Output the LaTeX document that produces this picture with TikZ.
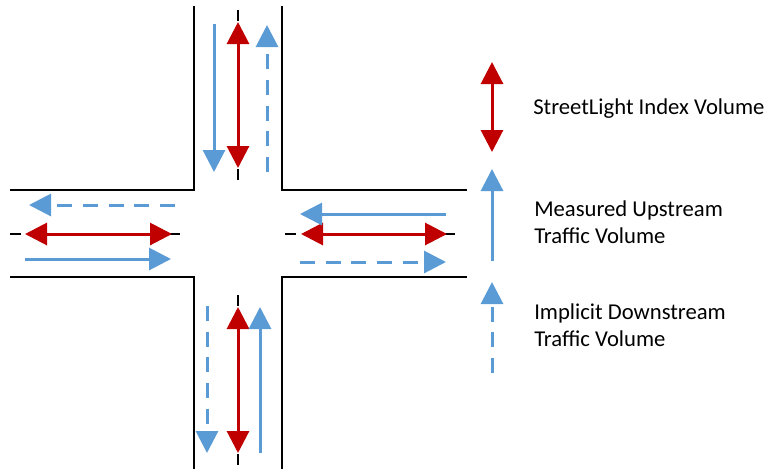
\documentclass[tikz,border=0pt]{standalone}
\usepackage{fontspec}
\setmainfont{Carlito}
\usetikzlibrary{arrows.meta}
\definecolor{sred}{HTML}{C00000}
\definecolor{sblue}{HTML}{5B9BD5}
\begin{document}
\begin{tikzpicture}[x=0.75pt,y=-0.75pt,
  road/.style={line width=1.8pt,black,line join=miter},
  center/.style={line width=1.8pt,black,dash pattern=on 8pt off 5.25pt},
  idx/.style={line width=2.25pt,sred,{Triangle[width=16.5pt,length=16.5pt]}-{Triangle[width=16.5pt,length=16.5pt]}},
  meas/.style={line width=2.25pt,sblue,-{Triangle[width=16.5pt,length=16.5pt]}},
  impl/.style={line width=2.25pt,sblue,dash pattern=on 11.25pt off 8pt,-{Triangle[width=16.5pt,length=16.5pt]}},
  lbl/.style={anchor=base west,inner sep=0pt,font=\fontsize{17}{20.8}\selectfont}]
\useasboundingbox (0,0) rectangle (770,469);
% road edges
\coordinate (tlA) at (10,190); \coordinate (tlC) at (194,190); \coordinate (tlT) at (194,6);
\coordinate (trT) at (282,6); \coordinate (trC) at (282,190); \coordinate (trA) at (467,190);
\coordinate (blA) at (10,277); \coordinate (blC) at (194,277); \coordinate (blB) at (194,469);
\coordinate (brA) at (467,277); \coordinate (brC) at (282,277); \coordinate (brB) at (282,469);
\draw[road] (tlA) -- (tlC) -- (tlT);
\draw[road] (trT) -- (trC) -- (trA);
\draw[road] (blA) -- (blC) -- (blB);
\draw[road] (brA) -- (brC) -- (brB);
% centre lines
\coordinate (cn1) at (238,10); \coordinate (cn2) at (238,183);
\coordinate (cw1) at (10,234); \coordinate (cw2) at (183,234);
\coordinate (ce1) at (285,234); \coordinate (ce2) at (458,234);
\coordinate (cs1) at (238,295); \coordinate (cs2) at (238,469);
\draw[center] (cn1) -- (cn2);
\draw[center] (cw1) -- (cw2);
\draw[center] (ce1) -- (ce2);
\draw[center] (cs1) -- (cs2);
% StreetLight index arrows
\coordinate (rn1) at (238,22); \coordinate (rn2) at (238,168);
\coordinate (rw1) at (25,234); \coordinate (rw2) at (172,234);
\coordinate (re1) at (301,234); \coordinate (re2) at (447,234);
\coordinate (rs1) at (238,307); \coordinate (rs2) at (238,453);
\draw[idx] (rn1) -- (rn2);
\draw[idx] (rw1) -- (rw2);
\draw[idx] (re1) -- (re2);
\draw[idx] (rs1) -- (rs2);
% measured upstream arrows
\coordinate (mn1) at (214,24); \coordinate (mn2) at (214,172);
\coordinate (mw1) at (25,259); \coordinate (mw2) at (171,259);
\coordinate (me1) at (446,214); \coordinate (me2) at (300,214);
\coordinate (ms1) at (260,453); \coordinate (ms2) at (260,307);
\draw[meas] (mn1) -- (mn2);
\draw[meas] (mw1) -- (mw2);
\draw[meas] (me1) -- (me2);
\draw[meas] (ms1) -- (ms2);
% implicit downstream arrows
\coordinate (dn1) at (267,172); \coordinate (dn2) at (267,25);
\coordinate (dw1) at (175,205); \coordinate (dw2) at (29,205);
\coordinate (de1) at (300,262); \coordinate (de2) at (446,262);
\coordinate (ds1) at (207,306); \coordinate (ds2) at (207,453);
\draw[impl] (dn1) -- (dn2);
\draw[impl] (dw1) -- (dw2);
\draw[impl] (de1) -- (de2);
\draw[impl] (ds1) -- (ds2);
% legend
\coordinate (l1a) at (492,62); \coordinate (l1b) at (492,152);
\coordinate (l2a) at (492,261); \coordinate (l2b) at (492,169);
\coordinate (l3a) at (492,373); \coordinate (l3b) at (492,282);
\draw[idx] (l1a) -- (l1b);
\draw[meas] (l2a) -- (l2b);
\draw[impl] (l3a) -- (l3b);
\node[lbl] (t1) at (533,114) {StreetLight Index Volume};
\node[lbl] (t2) at (534,216) {Measured Upstream};
\node[lbl] (t2b) at (534,243.5) {Traffic Volume};
\node[lbl] (t3) at (534,319) {Implicit Downstream};
\node[lbl] (t3b) at (534,346) {Traffic Volume};
\end{tikzpicture}
\end{document}
